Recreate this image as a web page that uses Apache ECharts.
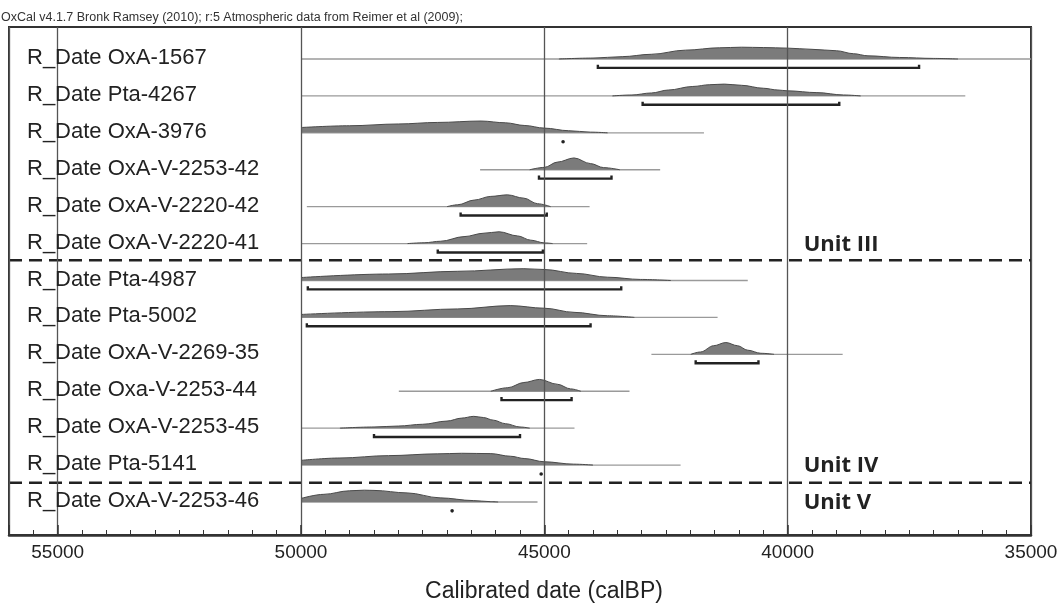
<!DOCTYPE html>
<html>
<head>
<meta charset="utf-8">
<script src="https://cdn.jsdelivr.net/npm/echarts@6/dist/echarts.min.js"></script>
<style>
  html, body { margin: 0; padding: 0; background: #fff; }
  #chart { width: 1063px; height: 607px; }
</style>
</head>
<body>
<div id="chart"></div>
<script>
// row names, top to bottom
const labels = [
  'R_Date OxA-1567', 'R_Date Pta-4267', 'R_Date OxA-3976', 'R_Date OxA-V-2253-42',
  'R_Date OxA-V-2220-42', 'R_Date OxA-V-2220-41', 'R_Date Pta-4987', 'R_Date Pta-5002',
  'R_Date OxA-V-2269-35', 'R_Date Oxa-V-2253-44', 'R_Date OxA-V-2253-45', 'R_Date Pta-5141',
  'R_Date OxA-V-2253-46'
];
// thin line = extent of the plotted distribution (calBP)
const lineFrom = [50000, 50000, 50000, 46320, 49880, 50000, 50000, 50000, 42800, 47990, 50000, 50000, 50000];
const lineTo   = [35000, 36350, 41720, 42620, 44070, 44120, 40820, 41440, 38870, 43250, 44380, 42200, 45140];
// 95.4% ranges (bracket under each curve)
const rangeFrom = [43900, 42980, 44650, 45110, 46720, 47190, 49860, 49880, 41890, 45880, 48500, 45100, 46930];
const rangeTo   = [37300, 38940, 44580, 43620, 44950, 45030, 43420, 44050, 40600, 44440, 45500, 45030, 46860];
// probability curves: [calBP, relative probability]
const probs = [
  [[44700,0],[44000,0.08],[43400,0.2],[42800,0.4],[42100,0.75],[41400,0.95],[40950,1],[40500,0.97],[40000,0.92],[39500,0.82],[39000,0.7],[38650,0.45],[38350,0.27],[37700,0.13],[37000,0.05],[36500,0]],
  [[43600,0],[43200,0.08],[42800,0.25],[42450,0.5],[41950,0.8],[41600,0.95],[41300,1],[40950,0.9],[40500,0.65],[40200,0.5],[40000,0.43],[39400,0.28],[38850,0.08],[38500,0]],
  [[50000,0.45],[49000,0.6],[48000,0.75],[47200,0.88],[46300,1],[45800,0.85],[45400,0.62],[45000,0.4],[44500,0.18],[44050,0.06],[43700,0]],
  [[45300,0],[45000,0.2],[44730,0.65],[44390,1],[44050,0.52],[43780,0.18],[43450,0]],
  [[47000,0],[46780,0.16],[46440,0.56],[46100,0.87],[45760,1],[45420,0.72],[45140,0.25],[44870,0]],
  [[47810,0],[47470,0.07],[47130,0.2],[46650,0.59],[46240,0.88],[45930,1],[45550,0.65],[45280,0.29],[45000,0.06],[44830,0]],
  [[50000,0.25],[48200,0.55],[46780,0.78],[45420,1],[45000,0.93],[44340,0.6],[43700,0.28],[43020,0.09],[42400,0]],
  [[50000,0.25],[48150,0.49],[46780,0.72],[45700,1],[45000,0.78],[44390,0.43],[43700,0.14],[43150,0]],
  [[41990,0],[41790,0.2],[41520,0.73],[41270,1],[41030,0.73],[40820,0.35],[40550,0.09],[40280,0]],
  [[46100,0],[45750,0.3],[45420,0.74],[45100,1],[44730,0.59],[44460,0.2],[44250,0]],
  [[49200,0],[48500,0.1],[48000,0.18],[47500,0.33],[47000,0.6],[46700,0.85],[46450,1],[46250,0.9],[46050,0.68],[45800,0.38],[45500,0.1],[45300,0]],
  [[50000,0.4],[49200,0.6],[48200,0.8],[47200,0.95],[46700,1],[46100,0.97],[45700,0.75],[45400,0.55],[45000,0.28],[44400,0.08],[44000,0]],
  [[50000,0.3],[49530,0.65],[49000,0.95],[48700,1],[48500,0.98],[47820,0.77],[47140,0.35],[46460,0.12],[46110,0.03],[45950,0]]
];
// group names and the row they are written on
const units = ['Unit III', 'Unit IV', 'Unit V'];
const unitRows = [5, 11, 12];
// dashed separators between groups (row position)
const dividers = [5.45, 11.48];

const H = 0.32; // curve height in row units

const chart = echarts.init(document.getElementById('chart'));

const rows = labels.map((_, i) => i);

// thin extent lines
const lineSeries = {
  type: 'custom',
  z: 2,
  data: rows.map(i => [lineFrom[i], i, lineTo[i]]),
  renderItem: function (params, api) {
    const i = params.dataIndex;
    const a = api.coord([lineFrom[i], i]);
    const b = api.coord([lineTo[i], i]);
    return {
      type: 'line',
      shape: { x1: a[0], y1: a[1], x2: b[0], y2: b[1] },
      style: { stroke: '#9a9a9a', lineWidth: 1.3 }
    };
  }
};

// probability areas
const distSeries = probs.map((p, i) => ({
  type: 'line',
  z: 3,
  data: p.map(d => [d[0], i - d[1] * H]),
  smooth: 0.35,
  smoothMonotone: 'x',
  symbol: 'none',
  lineStyle: { color: '#4a4a4a', width: 1 },
  areaStyle: { origin: i, color: '#7b7b7b', opacity: 1 },
  silent: true
}));

// 95% range brackets
const rangeSeries = {
  type: 'custom',
  z: 4,
  data: rows.map(i => [rangeFrom[i], i, rangeTo[i]]),
  renderItem: function (params, api) {
    const i = params.dataIndex;
    const a = api.coord([rangeFrom[i], i + 0.24]);
    const b = api.coord([rangeTo[i], i + 0.24]);
    if (Math.abs(b[0] - a[0]) < 5) {
      return {
        type: 'circle',
        shape: { cx: (a[0] + b[0]) / 2, cy: a[1], r: 1.8 },
        style: { fill: '#222' }
      };
    }
    return {
      type: 'polyline',
      shape: { points: [[a[0], a[1] - 3], [a[0], a[1]], [b[0], b[1]], [b[0], b[1] - 3]] },
      style: { stroke: '#222', lineWidth: 2.4, fill: null }
    };
  }
};

// dashed group separators
const dividerSeries = {
  type: 'custom',
  z: 4,
  data: dividers.map(d => [45000, d]),
  renderItem: function (params, api) {
    const y = api.coord([45000, dividers[params.dataIndex]])[1];
    const cs = params.coordSys;
    return {
      type: 'line',
      shape: { x1: cs.x, y1: y, x2: cs.x + cs.width, y2: y },
      style: { stroke: '#222', lineWidth: 2.6, lineDash: [13, 7] }
    };
  }
};

// row names
const labelSeries = {
  type: 'custom',
  z: 6,
  data: rows.map(i => [56000, i]),
  renderItem: function (params, api) {
    const i = params.dataIndex;
    const y = api.coord([56000, i])[1];
    return {
      type: 'text',
      style: {
        text: labels[i], x: params.coordSys.x + 18, y: y - 1,
        fill: '#222', fontSize: 22, fontFamily: 'Liberation Sans, Arial, sans-serif',
        align: 'left', verticalAlign: 'middle'
      }
    };
  }
};

// unit names
const unitSeries = {
  type: 'custom',
  z: 6,
  data: units.map((u, k) => [40000, unitRows[k]]),
  renderItem: function (params, api) {
    const k = params.dataIndex;
    const p = api.coord([40000, unitRows[k]]);
    return {
      type: 'text',
      style: {
        text: units[k], x: p[0] + 16, y: p[1] + 1,
        fill: '#222', fontSize: 22, fontWeight: 'bold', fontFamily: 'Open Sans, sans-serif',
        align: 'left', verticalAlign: 'middle'
      }
    };
  }
};

const option = {
  animation: false,
  backgroundColor: '#fff',
  title: {
    text: 'OxCal v4.1.7 Bronk Ramsey (2010); r:5 Atmospheric data from Reimer et al (2009);',
    left: 1, top: 11, padding: 0,
    textStyle: { fontSize: 12.5, fontWeight: 'normal', color: '#333', fontFamily: 'Liberation Sans, Arial, sans-serif' }
  },
  grid: {
    left: 9, right: 32, top: 27, bottom: 72,
    outerBoundsMode: 'none',
    show: true, borderColor: '#333', borderWidth: 2, backgroundColor: 'transparent'
  },
  xAxis: [
    {
      type: 'value', inverse: true, min: 35000, max: 56000, interval: 5000, z: 5,
      axisLine: { show: true, onZero: false, lineStyle: { color: '#333', width: 2.5 } },
      axisTick: { show: true, inside: true, length: 10, lineStyle: { color: '#333', width: 1.5 } },
      axisLabel: {
        margin: 8, fontSize: 19, color: '#222',
        fontFamily: 'Liberation Sans, Arial, sans-serif',
        formatter: v => (v % 5000 === 0 ? String(v) : '')
      },
      splitLine: { show: true, lineStyle: { color: '#555', width: 1.3 } },
      name: 'Calibrated date (calBP)', nameLocation: 'middle', nameGap: 45,
      nameTextStyle: {
        fontSize: 23, color: '#222', padding: [0, 0, 0, 48],
        fontFamily: 'Liberation Sans, Arial, sans-serif'
      }
    },
    {
      type: 'value', inverse: true, min: 35000, max: 56000, interval: 500, position: 'bottom',
      axisLine: { show: false, onZero: false },
      axisTick: { show: true, inside: true, length: 5, lineStyle: { color: '#333', width: 1 } },
      axisLabel: { show: false },
      splitLine: { show: false }
    }
  ],
  yAxis: {
    type: 'value', inverse: true, min: -0.867, max: 12.894, show: false,
    splitLine: { show: false }
  },
  series: [lineSeries].concat(distSeries, [rangeSeries, dividerSeries, labelSeries, unitSeries])
};

chart.setOption(option);
</script>
</body>
</html>
